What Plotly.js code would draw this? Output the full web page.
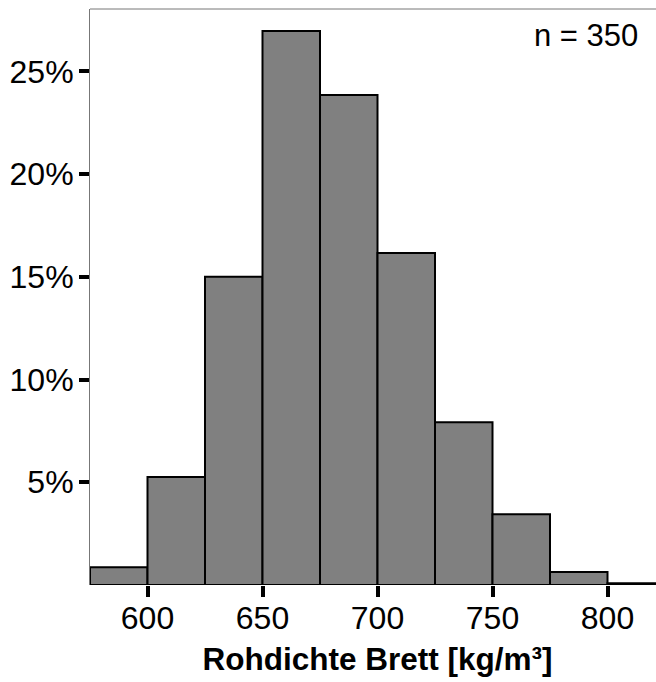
<!DOCTYPE html>
<html>
<head>
<meta charset="utf-8">
<script src="https://cdn.plot.ly/plotly-3.0.1.min.js"></script>
<style>
html, body { margin: 0; padding: 0; overflow: hidden; background: #fff; }
#chart { width: 665px; height: 682px; }
</style>
</head>
<body>
<div id="chart"></div>
<script>
// Histogram bins (kg/m³), width 25
const binStart = [575, 600, 625, 650, 675, 700, 725, 750, 775, 800];
const binWidth = 25;
const percent = [0.86, 5.26, 15.0, 26.97, 23.85, 16.16, 7.92, 3.44, 0.63, 0.08];
const xTickVals = [600, 650, 700, 750, 800];
const xTickText = ['600', '650', '700', '750', '800'];
const yTickVals = [5, 10, 15, 20, 25];
const yTickText = ['5%', '10%', '15%', '20%', '25%'];
const nLabel = 'n = 350';
const xTitle = 'Rohdichte Brett [kg/m³]';

const centers = binStart.map(s => s + binWidth / 2);

const trace = {
  type: 'bar',
  x: centers,
  y: percent,
  width: binStart.map(() => binWidth),
  marker: { color: '#808080', line: { color: '#000000', width: 2 } },
  hoverinfo: 'skip'
};

const tickFont = { family: 'Liberation Sans, Arial, sans-serif', size: 32, color: '#000' };

const layout = {
  width: 665,
  height: 682,
  margin: { l: 90, r: 0, t: 9, b: 97 },
  paper_bgcolor: '#fff',
  plot_bgcolor: '#fff',
  showlegend: false,
  bargap: 0,
  xaxis: {
    range: [575, 825],
    tickvals: xTickVals,
    ticktext: xTickText,
    ticks: 'outside',
    ticklen: 11,
    tickwidth: 4,
    tickcolor: '#000',
    showgrid: false,
    zeroline: false,
    showline: false,
    tickfont: tickFont,
    ticklabelstandoff: -6,
    title: {
      text: xTitle,
      font: { family: 'Liberation Sans, Arial, sans-serif', size: 31.5, color: '#000', weight: 'bold' },
      standoff: 12
    }
  },
  yaxis: {
    range: [0, 28.04],
    tickvals: yTickVals,
    ticktext: yTickText,
    ticks: 'outside',
    ticklen: 10,
    tickwidth: 4,
    tickcolor: '#000',
    showgrid: false,
    zeroline: false,
    showline: true,
    linecolor: '#777',
    linewidth: 1,
    tickfont: tickFont,
    ticklabelstandoff: -1
  },
  shapes: [{
    type: 'line', xref: 'paper', yref: 'paper', x0: 0, x1: 1, y0: 1, y1: 1,
    line: { color: '#777', width: 1 }
  }],
  annotations: [{
    text: nLabel,
    xref: 'paper', yref: 'paper',
    x: 0.957, y: 0.988,
    xanchor: 'right', yanchor: 'top',
    showarrow: false,
    font: { family: 'Liberation Sans, Arial, sans-serif', size: 31, color: '#000' }
  }]
};

Plotly.newPlot('chart', [trace], layout, { displayModeBar: false, staticPlot: true });
</script>
</body>
</html>
